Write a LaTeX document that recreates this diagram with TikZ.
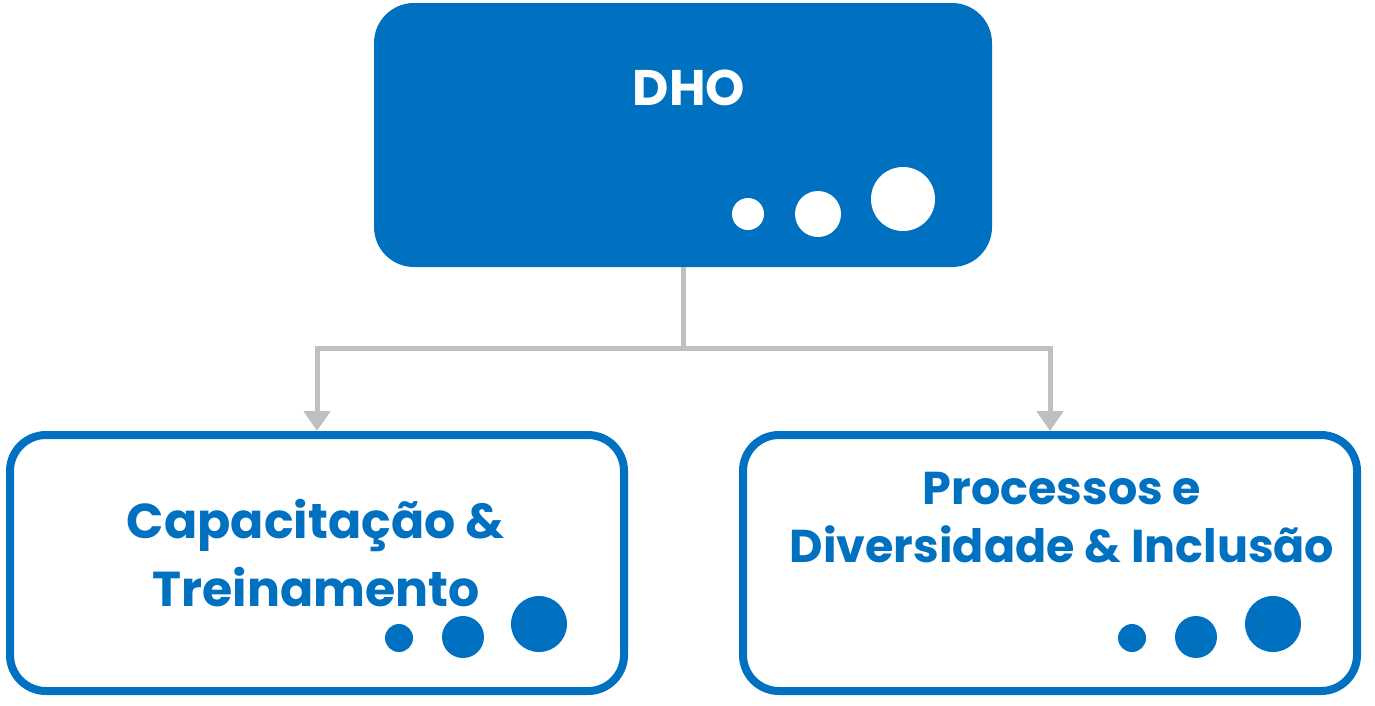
\documentclass[tikz,border=0pt]{standalone}
\usepackage{fontspec}
\setmainfont{Poppins}
\usetikzlibrary{arrows.meta}
\definecolor{azul}{HTML}{0070C0}
\definecolor{cinza}{HTML}{BFBFBF}
\begin{document}
\begin{tikzpicture}[x=1pt,y=-1pt,
  topbox/.style={fill=azul,rounded corners=40pt,minimum width=618pt,minimum height=264pt,inner sep=0},
  subbox/.style={draw=azul,line width=8pt,fill=white,rounded corners=36pt,minimum width=614pt,minimum height=256pt,inner sep=0},
  lbl/.style={font=\fontsize{47}{62}\selectfont\bfseries,align=center},
  conn/.style={draw=cinza,line width=5pt,-{Triangle[length=20pt,width=26pt]}}]
\useasboundingbox (0,0) rectangle (1375,705);
\node[topbox] (top) at (683,135) {};
\node[lbl,text=white,font=\fontsize{50}{60}\selectfont\bfseries] (dho) at (689,88) {DHO};
\fill[white] (748,214) circle (16) (818,214) circle (23) (903,199) circle (32);
\node[subbox] (L) at (317,563) {};
\node[subbox] (R) at (1050,563) {};
\node[lbl,text=azul,font=\fontsize{49}{68}\selectfont\bfseries] (lt) at (316,553) {Capacitação \&\\Treinamento};
\node[lbl,text=azul,font=\fontsize{46}{58}\selectfont\bfseries] (rt) at (1062,518) {Processos e\\Diversidade \& Inclusão};
\fill[azul] (399,638) circle (14) (463,637) circle (21) (539,624) circle (28);
\fill[azul] (1132,638) circle (14) (1196,637) circle (21) (1273,624) circle (28);
\coordinate (j) at (683,348);
\draw[conn] (top.south) -- (j) -| (L.north);
\draw[conn] (j) -| (R.north);
\end{tikzpicture}
\end{document}
